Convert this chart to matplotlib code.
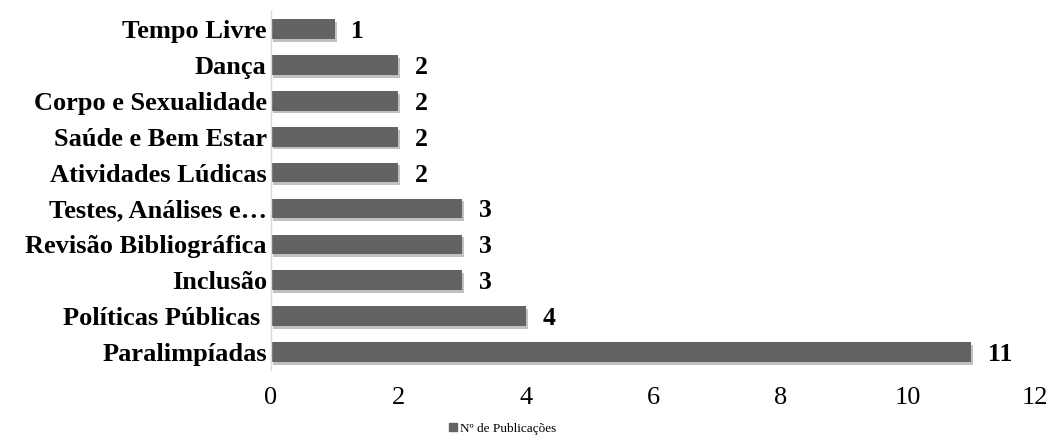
import matplotlib
matplotlib.use("Agg")
import matplotlib.pyplot as plt
import matplotlib.patheffects as pe
from matplotlib.patches import Patch

categories = ["Paralimpíadas", "Políticas Públicas ", "Inclusão", "Revisão Bibliográfica",
              "Testes, Análises e…", "Atividades Lúdicas", "Saúde e Bem Estar",
              "Corpo e Sexualidade", "Dança", "Tempo Livre"]
values = [11, 4, 3, 3, 3, 2, 2, 2, 2, 1]
xticks = [0, 2, 4, 6, 8, 10, 12]
legend_label = "Nº de Publicações"

plt.rcParams["font.family"] = ["Liberation Serif", "DejaVu Serif"]

fig = plt.figure(figsize=(10.51, 4.4), dpi=100)
ax = fig.add_axes([0.2578, 0.159, 0.727, 0.816])

bar_color = "#636363"
ax.barh(range(len(categories)), values, height=0.55, color=bar_color,
        path_effects=[pe.SimplePatchShadow(offset=(1.5, -2), shadow_rgbFace="#999999", alpha=0.6),
                      pe.Normal()])
for i, v in enumerate(values):
    ax.text(v + 0.26, i, str(v), va="center_baseline", ha="left",
            fontsize=18.5, fontweight="bold")

ax.set_xlim(0, 12)
ax.set_ylim(-0.5, len(categories) - 0.5)
ax.set_xticks(xticks)
ax.set_xticklabels([str(t) for t in xticks], fontsize=19)
ax.set_yticks(range(len(categories)))
ax.set_yticklabels(categories, fontsize=19, fontweight="bold")
ax.tick_params(axis="both", length=0)
ax.tick_params(axis="x", pad=12)
ax.tick_params(axis="y", pad=3)

for s in ["top", "right", "bottom"]:
    ax.spines[s].set_visible(False)
ax.spines["left"].set_color("#d9d9d9")
ax.spines["left"].set_linewidth(1)

fig.legend(handles=[Patch(color=bar_color, label=legend_label)], loc="lower center",
           bbox_to_anchor=(0.478, -0.015), frameon=False, fontsize=9.5,
           handlelength=0.6, handleheight=0.6, handletextpad=0.2)

fig.savefig("out.png", dpi=100)
